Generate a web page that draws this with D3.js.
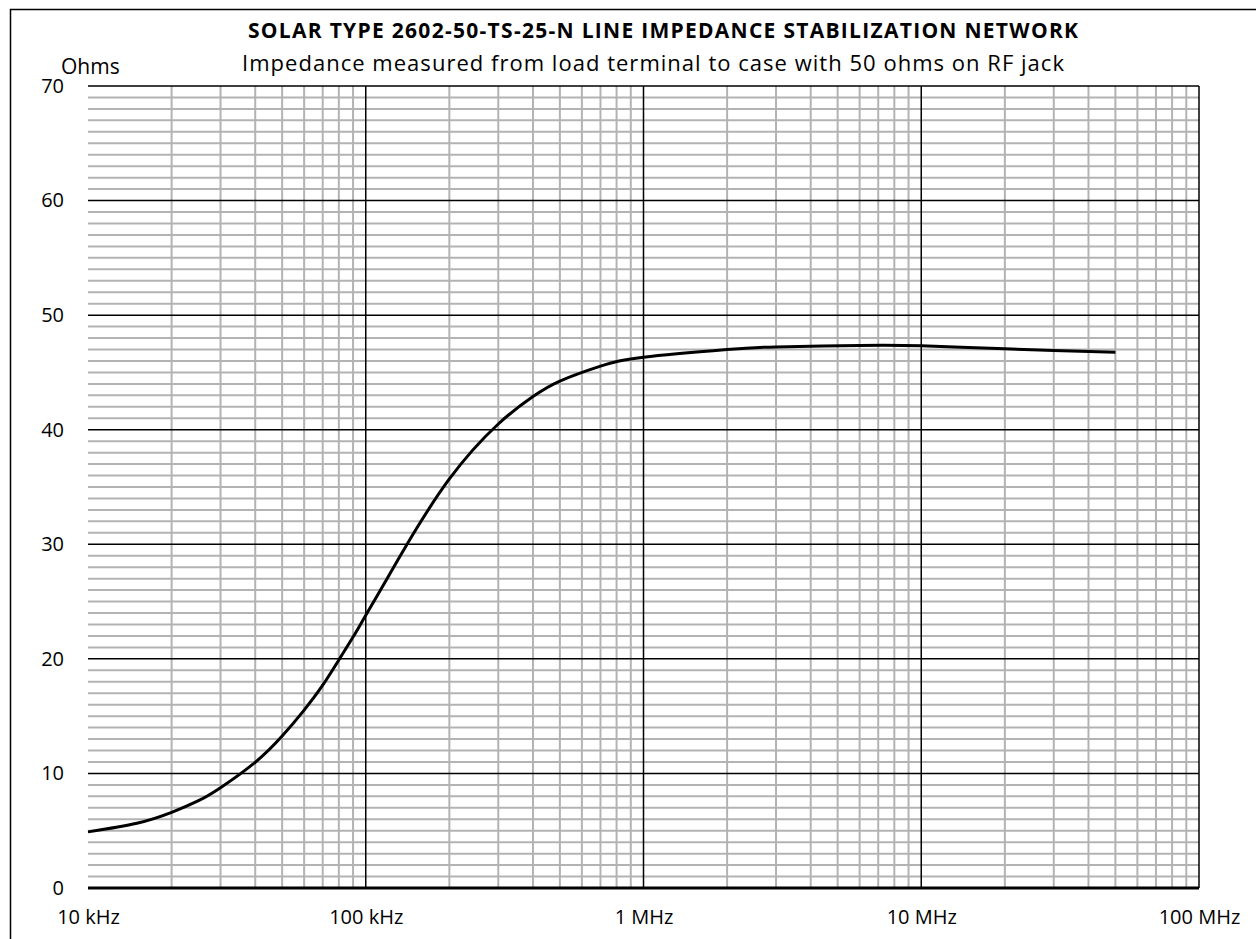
<!DOCTYPE html>
<html>
<head>
<meta charset="utf-8">
<script src="https://cdnjs.cloudflare.com/ajax/libs/d3/7.8.5/d3.min.js"></script>
<style>
  body { margin: 0; background: #fff; }
  svg text { font-family: "Open Sans", Lato, sans-serif; fill: #000; }
</style>
</head>
<body>
<div id="chart"></div>
<script>
// measured impedance (frequency in Hz, impedance in ohms)
var freqs = [10e3, 15e3, 20e3, 25e3, 30e3, 40e3, 50e3, 60e3, 70e3, 80e3, 90e3, 100e3,
             120e3, 140e3, 200e3, 300e3, 400e3, 500e3, 700e3,
             1e6, 2e6, 3e6, 6e6, 10e6, 20e6, 30e6, 50e6];
var ohms  = [4.9, 5.65, 6.6, 7.62, 8.75, 10.97, 13.26, 15.53, 17.7, 19.9, 21.9, 23.8,
             27.1, 29.9, 35.7, 40.5, 42.9, 44.25, 45.55,
             46.33, 47.0, 47.23, 47.35, 47.32, 47.06, 46.92, 46.77];

var yTicks = [0, 10, 20, 30, 40, 50, 60, 70];
var xTicks = [1e4, 1e5, 1e6, 1e7, 1e8];
var xTickLabels = ["10 kHz", "100 kHz", "1 MHz", "10 MHz", "100 MHz"];

var title = "SOLAR TYPE 2602-50-TS-25-N LINE IMPEDANCE STABILIZATION NETWORK";
var subtitle = "Impedance measured from load terminal to case with 50 ohms on RF jack";

var W = 1256, H = 939;
var margin = {top: 86, right: 57, bottom: 51, left: 88};
var width = W - margin.left - margin.right,
    height = H - margin.top - margin.bottom;

var svg = d3.select("#chart").append("svg")
    .attr("width", W)
    .attr("height", H);

// outer frame (runs off the right and bottom of the picture)
svg.append("rect")
    .attr("x", 10.5).attr("y", 9.5)
    .attr("width", W + 20).attr("height", H + 20)
    .attr("fill", "none")
    .attr("stroke", "#000")
    .attr("stroke-width", 1.5);

svg.append("text")
    .attr("x", 663).attr("y", 38)
    .attr("text-anchor", "middle")
    .attr("textLength", 830)
    .attr("lengthAdjust", "spacing")
    .style("font-size", "21px")
    .style("font-weight", "bold")
    .text(title);

svg.append("text")
    .attr("x", 653).attr("y", 71)
    .attr("text-anchor", "middle")
    .attr("textLength", 822)
    .attr("lengthAdjust", "spacing")
    .style("font-size", "22px")
    .text(subtitle);

svg.append("text")
    .attr("x", 61).attr("y", 74)
    .style("font-size", "21px")
    .text("Ohms");

var g = svg.append("g")
    .attr("transform", "translate(" + margin.left + "," + margin.top + ")");

var x = d3.scaleLog().domain([1e4, 1e8]).range([0, width]);
var y = d3.scaleLinear().domain([0, 70]).range([height, 0]);

// minor grid
var minorY = d3.range(0, 71).filter(function(v) { return v % 10 != 0; });
var minorX = [];
[1e4, 1e5, 1e6, 1e7].forEach(function(d) {
  for (var k = 2; k <= 9; k++) minorX.push(d * k);
});

g.selectAll(".minor-y")
    .data(minorY)
  .enter().append("line")
    .attr("class", "minor-y")
    .attr("x1", 0).attr("x2", width)
    .attr("y1", function(d) { return y(d); })
    .attr("y2", function(d) { return y(d); })
    .attr("stroke", "#b3b3b3")
    .attr("stroke-width", 2);

g.selectAll(".minor-x")
    .data(minorX)
  .enter().append("line")
    .attr("class", "minor-x")
    .attr("y1", 0).attr("y2", height)
    .attr("x1", function(d) { return x(d); })
    .attr("x2", function(d) { return x(d); })
    .attr("stroke", "#b3b3b3")
    .attr("stroke-width", 2);

// major grid
g.selectAll(".major-y")
    .data(yTicks.slice(1))
  .enter().append("line")
    .attr("class", "major-y")
    .attr("x1", 0).attr("x2", width)
    .attr("y1", function(d) { return y(d); })
    .attr("y2", function(d) { return y(d); })
    .attr("stroke", "#000")
    .attr("stroke-width", 1.5);

g.selectAll(".major-x")
    .data(xTicks.slice(1))
  .enter().append("line")
    .attr("class", "major-x")
    .attr("y1", 0).attr("y2", height)
    .attr("x1", function(d) { return x(d); })
    .attr("x2", function(d) { return x(d); })
    .attr("stroke", "#000")
    .attr("stroke-width", 1.5);

// bottom axis line
g.append("line")
    .attr("x1", 0).attr("x2", width)
    .attr("y1", height).attr("y2", height)
    .attr("stroke", "#000")
    .attr("stroke-width", 3);

// tick labels
var yAxis = d3.axisLeft(y).tickValues(yTicks).tickSize(0).tickPadding(24);
var xAxis = d3.axisBottom(x).tickValues(xTicks).tickSize(0).tickPadding(22)
    .tickFormat(function(d, i) { return xTickLabels[i]; });

g.append("g").call(yAxis)
    .call(function(s) { s.select(".domain").remove(); })
    .selectAll("text")
    .style("font-size", "20px")
    .attr("fill", "#000");

g.append("g")
    .attr("transform", "translate(0," + height + ")")
    .call(xAxis)
    .call(function(s) { s.select(".domain").remove(); })
    .selectAll("text")
    .style("font-size", "20px")
    .attr("fill", "#000");

// impedance curve
var data = freqs.map(function(f, i) { return {f: f, z: ohms[i]}; });

var line = d3.line()
    .x(function(d) { return x(d.f); })
    .y(function(d) { return y(d.z); })
    .curve(d3.curveNatural);

g.append("path")
    .datum(data)
    .attr("fill", "none")
    .attr("stroke", "#000")
    .attr("stroke-width", 3)
    .attr("d", line);
</script>
</body>
</html>
